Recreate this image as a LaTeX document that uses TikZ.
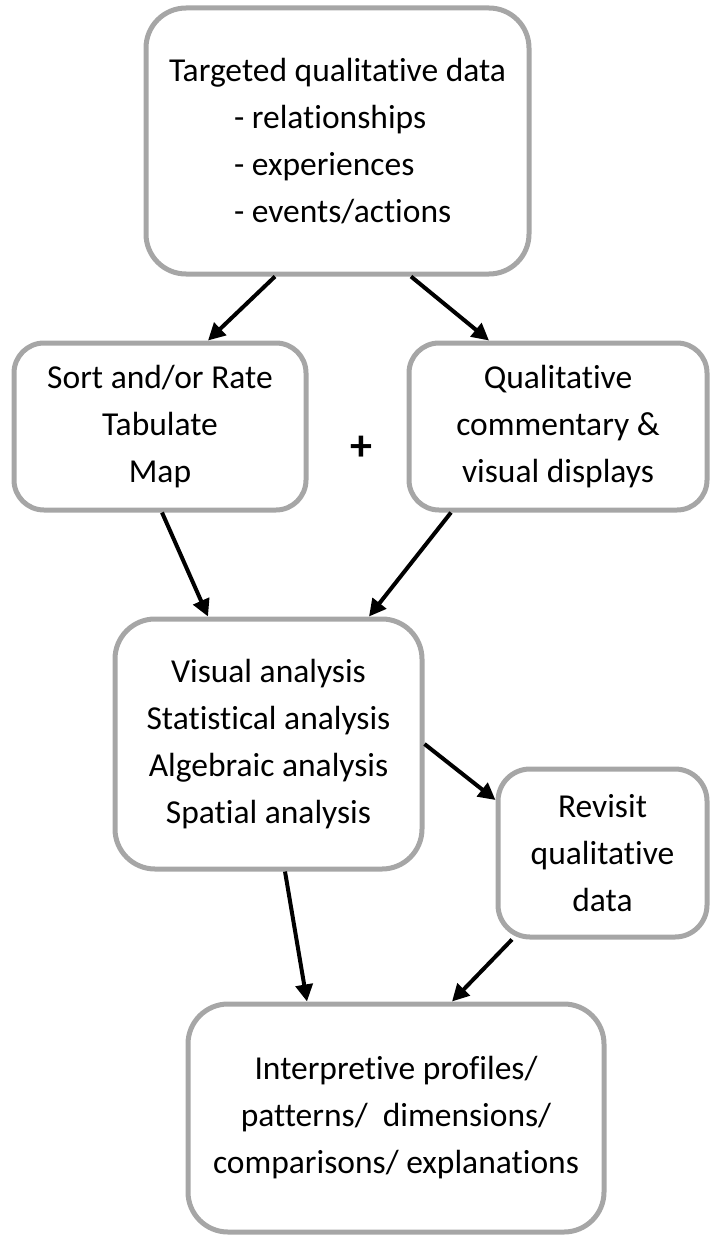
\documentclass[tikz,border=0pt]{standalone}
\usepackage{fontspec}
\setmainfont{Carlito}[Ligatures=NoCommon]
\usetikzlibrary{arrows.meta}
\definecolor{boxgray}{HTML}{A6A6A6}

\begin{document}
\begin{tikzpicture}[x=1pt,y=-1pt,
  stage/.style={draw=boxgray,line width=5pt,rounded corners=40pt,align=center,
    inner sep=0pt,font=\fontsize{33.5}{47}\selectfont},
  flow/.style={-{Triangle[length=17pt,width=17pt]},line width=4pt,black}]
\useasboundingbox (0,0) rectangle (709,1236);

\node[stage,minimum width=383pt,minimum height=266pt,align=left] (data) at (337.5,141)
  {Targeted qualitative data\\ \hspace*{65pt}- relationships\\ \hspace*{65pt}- experiences\\ \hspace*{65pt}- events/actions};
\node[stage,rounded corners=30pt,minimum width=292pt,minimum height=167pt] (sort) at (160,426.5)
  {Sort and/or Rate\\ Tabulate\\ Map};
\node[stage,rounded corners=30pt,minimum width=298pt,minimum height=167pt] (comm) at (558,426.5)
  {Qualitative\\ commentary \&\\ visual displays};
\node[font=\fontsize{44}{50}\selectfont\bfseries] (plus) at (361,448) {+};
\node[stage,minimum width=307pt,minimum height=250pt] (anal) at (268.5,744)
  {Visual analysis\\ Statistical analysis\\ Algebraic analysis\\ Spatial analysis};
\node[stage,rounded corners=32pt,minimum width=209pt,minimum height=168pt] (revis) at (602.5,853)
  {Revisit\\ qualitative\\ data};
\node[stage,minimum width=416pt,minimum height=228pt] (interp) at (396,1118)
  {Interpretive profiles/\\ patterns/\ \ dimensions/\\ comparisons/ explanations};

\draw[flow] ([xshift=-62.5pt]data.south) -- ([xshift=48pt]sort.north);
\draw[flow] ([xshift=73.5pt]data.south) -- ([xshift=-69pt]comm.north);
\draw[flow] ([xshift=2pt]sort.south) -- ([xshift=-60.5pt]anal.north);
\draw[flow] ([xshift=-107pt]comm.south) -- ([xshift=100.5pt]anal.north);
\draw[flow] (anal.east) -- ([yshift=53pt]revis.west);
\draw[flow] ([xshift=16.5pt]anal.south) -- ([xshift=-89pt]interp.north);
\draw[flow] ([xshift=-90.5pt]revis.south) -- ([xshift=56pt]interp.north);

\end{tikzpicture}
\end{document}
